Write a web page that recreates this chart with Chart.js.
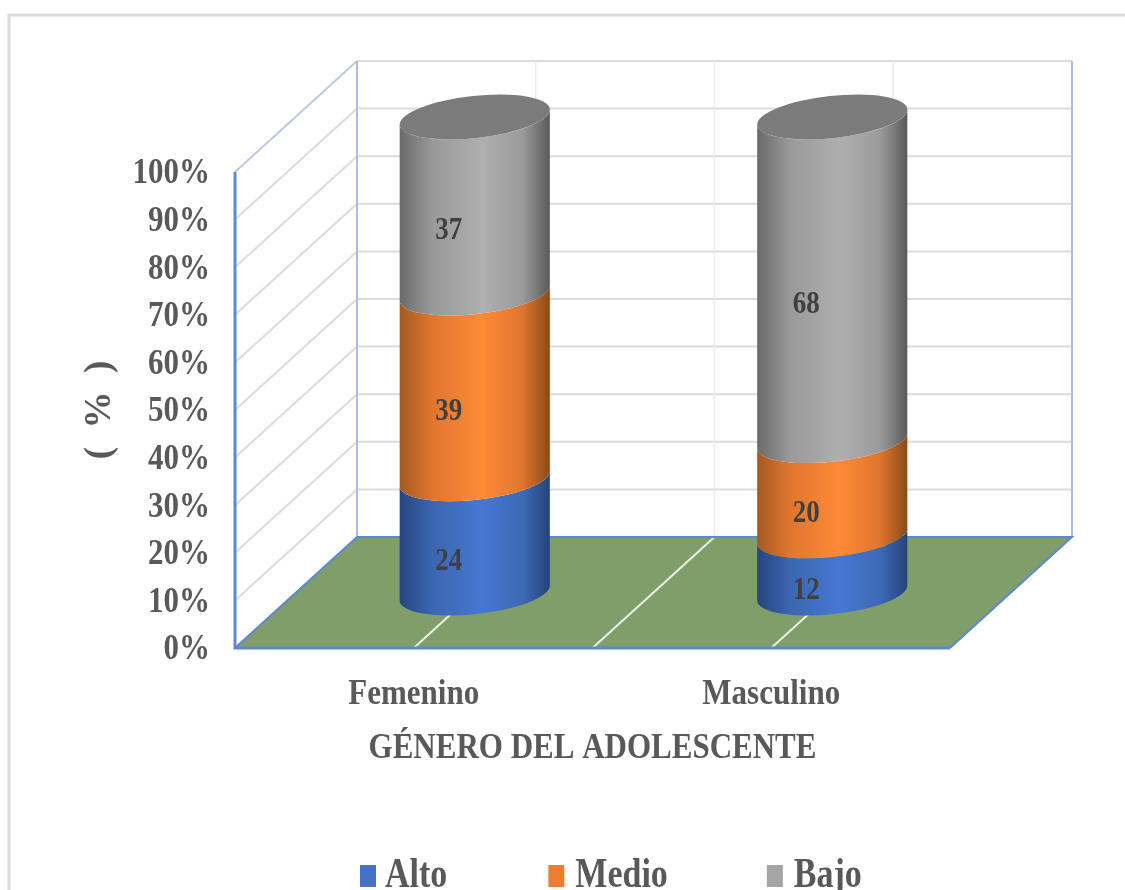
<!DOCTYPE html>
<html>
<head>
<meta charset="utf-8">
<style>
html,body{margin:0;padding:0;background:#fff;overflow:hidden}
canvas{display:block;filter:blur(0.45px)}
</style>
<script src="https://cdn.jsdelivr.net/npm/chart.js@4/dist/chart.umd.min.js"></script>
</head>
<body>
<canvas id="c" width="1125" height="890"></canvas>
<script>
const categories = ['Femenino', 'Masculino'];
const alto = [24, 12];
const medio = [39, 20];
const bajo = [37, 68];
const seriesNames = ['Alto', 'Medio', 'Bajo'];
const yTicks = [0, 10, 20, 30, 40, 50, 60, 70, 80, 90, 100];
const xTitle = 'GÉNERO DEL ADOLESCENTE';
const yTitle = '(  %  )';

const FONT = '"Liberation Serif", serif';
const TEXT = '#595959';
const DEPTH_X = 122, DEPTH_Y = 111;
const BAR_DX = 61, BAR_DY = 55;
const LEGEND_TEXT_DX = [-8, -6, -6];
const SHADES = [
  ['#27457f', '#3b66b0', '#4678d2', '#3d69b6', '#25437a'],
  ['#a45a22', '#e0762f', '#ff8a36', '#de752e', '#8a4a17'],
  ['#6a6a6a', '#999999', '#afafaf', '#9a9a9a', '#5a5a5a']
];

const scene = {
  id: 'scene',
  start(chart) {
    const ctx = chart.ctx, orig = ctx.fillText.bind(ctx);
    ctx.fillText = function (t, x, y, m) {
      const rotated = Math.abs(ctx.getTransform().b) > 0.01;
      const size = parseFloat(ctx.font.match(/(\d+(?:\.\d+)?)px/)[1]);
      const stretch = size === 34 ? 1.25 : 1.17;
      const li = size === 34 ? seriesNames.indexOf(t) : -1;
      const dx = li >= 0 ? LEGEND_TEXT_DX[li] : 0;
      const dy = size === 31 ? 2 : 0;
      ctx.save();
      ctx.translate(x + dx, y + dy);
      if (!rotated) ctx.scale(1, stretch);
      if (m === undefined) orig(t, 0, 0); else orig(t, 0, 0, m);
      ctx.restore();
    };
  },
  beforeLayout(chart) {
    const l = chart.legend;
    if (l && !l._fixedFit) {
      const f = l.fit;
      l.fit = function () { f.call(this); this.height = 0; };
      l._fixedFit = true;
    }
  },
  afterLayout(chart) {
    const l = chart.legend, pad = l.options.labels.padding;
    l.left = 360 - pad;
    l.right = 1300;
    l.top = 859 - pad;
    l.bottom = 890;
  },
  beforeDraw(chart) {
    const { ctx, scales: { x, y } } = chart;
    const b0 = y.getPixelForValue(0), t0 = y.getPixelForValue(100);
    const L = x.left, R = x.right;
    ctx.save();
    ctx.fillStyle = '#fff';
    ctx.fillRect(0, 0, chart.width, chart.height);
    // outer frame
    ctx.strokeStyle = '#dcdcdc'; ctx.lineWidth = 3;
    ctx.beginPath(); ctx.moveTo(9, 890); ctx.lineTo(9, 15); ctx.lineTo(1125, 15); ctx.stroke();
    // floor
    ctx.fillStyle = '#809e6a';
    ctx.beginPath();
    ctx.moveTo(L, b0); ctx.lineTo(R, b0); ctx.lineTo(R + DEPTH_X, b0 - DEPTH_Y); ctx.lineTo(L + DEPTH_X, b0 - DEPTH_Y);
    ctx.closePath(); ctx.fill();
    // gridlines on walls
    ctx.strokeStyle = '#dcdcdc'; ctx.lineWidth = 2;
    yTicks.forEach(v => {
      const p = y.getPixelForValue(v);
      ctx.beginPath();
      if (v > 0) { ctx.moveTo(L, p); ctx.lineTo(L + DEPTH_X, p - DEPTH_Y); }
      ctx.moveTo(L + DEPTH_X, p - DEPTH_Y); ctx.lineTo(R + DEPTH_X, p - DEPTH_Y);
      ctx.stroke();
    });
    // verticals on back wall + floor lines
    [0, 0.5, 1].forEach(v => {
      const p = x.getPixelForValue(v);
      ctx.strokeStyle = '#ececec'; ctx.lineWidth = 1.5;
      ctx.beginPath(); ctx.moveTo(p + DEPTH_X, b0 - DEPTH_Y); ctx.lineTo(p + DEPTH_X, t0 - DEPTH_Y); ctx.stroke();
      ctx.strokeStyle = '#eef0ea'; ctx.lineWidth = 2;
      ctx.beginPath(); ctx.moveTo(p, b0); ctx.lineTo(p + DEPTH_X, b0 - DEPTH_Y); ctx.stroke();
    });
    // wall edges
    ctx.strokeStyle = '#b4c6e7'; ctx.lineWidth = 1.5;
    ctx.beginPath(); ctx.moveTo(L, t0); ctx.lineTo(L + DEPTH_X, t0 - DEPTH_Y); ctx.stroke();
    ctx.strokeStyle = '#a9bde6'; ctx.lineWidth = 2;
    ctx.beginPath(); ctx.moveTo(L + DEPTH_X, t0 - DEPTH_Y); ctx.lineTo(L + DEPTH_X, b0 - DEPTH_Y); ctx.stroke();
    ctx.beginPath(); ctx.moveTo(R + DEPTH_X, t0 - DEPTH_Y); ctx.lineTo(R + DEPTH_X, b0 - DEPTH_Y); ctx.stroke();
    ctx.strokeStyle = '#5f88d4'; ctx.lineWidth = 3;
    ctx.beginPath(); ctx.moveTo(L, t0); ctx.lineTo(L, b0); ctx.lineTo(R, b0); ctx.stroke();
    ctx.lineWidth = 2;
    ctx.beginPath(); ctx.moveTo(L, b0); ctx.lineTo(L + DEPTH_X, b0 - DEPTH_Y); ctx.lineTo(R + DEPTH_X, b0 - DEPTH_Y); ctx.lineTo(R, b0); ctx.stroke();
    ctx.restore();
  },
  beforeDatasetDraw() { return false; },
  afterDatasetsDraw(chart) {
    const { ctx } = chart;
    const n = chart.data.datasets.length;
    ctx.save();
    for (let d = 0; d < n; d++) {
      chart.getDatasetMeta(d).data.forEach(bar => {
        const w = bar.width, cx = bar.x + BAR_DX;
        const a = w * 0.5027, b = w * 0.14, r = -0.108;
        const t = Math.atan2(-b * Math.sin(r), a * Math.cos(r));
        const yTop = bar.y - BAR_DY, yBase = bar.base - BAR_DY;
        const g = ctx.createLinearGradient(cx - w / 2, 0, cx + w / 2, 0);
        const s = SHADES[d];
        g.addColorStop(0, s[0]); g.addColorStop(0.22, s[1]); g.addColorStop(0.55, s[2]);
        g.addColorStop(0.82, s[3]); g.addColorStop(1, s[4]);
        ctx.fillStyle = g;
        ctx.beginPath();
        ctx.ellipse(cx, yBase, a, b, r, t, t + Math.PI, false);
        ctx.ellipse(cx, yTop, a, b, r, t + Math.PI, t, true);
        ctx.closePath();
        ctx.fill();
        if (d === n - 1) {
          ctx.fillStyle = '#7b7b7b';
          ctx.beginPath();
          ctx.ellipse(cx, yTop, a, b, r, 0, Math.PI * 2);
          ctx.fill();
        }
      });
    }
    ctx.fillStyle = '#404040';
    ctx.font = 'bold 27px ' + FONT;
    ctx.textAlign = 'center';
    ctx.textBaseline = 'middle';
    for (let d = 0; d < n; d++) {
      const vals = chart.data.datasets[d].data;
      chart.getDatasetMeta(d).data.forEach((bar, i) => {
        ctx.fillText(String(vals[i]), bar.x + 35, (bar.y + bar.base) / 2 - 29);
      });
    }
    ctx.restore();
  }
};

new Chart(document.getElementById('c'), {
  type: 'bar',
  data: {
    labels: categories,
    datasets: [
      { label: seriesNames[0], data: alto, backgroundColor: '#4472C4' },
      { label: seriesNames[1], data: medio, backgroundColor: '#ED7D31' },
      { label: seriesNames[2], data: bajo, backgroundColor: '#A5A5A5' }
    ]
  },
  plugins: [scene],
  options: {
    responsive: false,
    animation: false,
    devicePixelRatio: 1,
    layout: { padding: { top: 172, right: 175, left: 0, bottom: 0 } },
    datasets: { bar: { barPercentage: 0.42, categoryPercentage: 1 } },
    plugins: {
      tooltip: { enabled: false },
      legend: {
        position: 'bottom',
        align: 'start',
        labels: {
          boxWidth: 16, boxHeight: 22, padding: 93,
          color: TEXT,
          font: { family: FONT, weight: 'bold', size: 34 }
        }
      }
    },
    scales: {
      x: {
        stacked: true,
        afterFit(s) { s.height = 242; },
        grid: { display: false },
        border: { display: false },
        ticks: {
          color: TEXT, padding: 18, maxRotation: 0, autoSkip: false,
          font: { family: FONT, weight: 'bold', size: 31 }
        },
        title: {
          display: true, text: xTitle, color: TEXT,
          font: { family: FONT, weight: 'bold', size: 31 },
          padding: { top: 0, bottom: 125 }
        }
      },
      y: {
        stacked: true,
        min: 0, max: 100,
        afterFit(s) { s.width = 235; },
        afterBuildTicks(s) { s.ticks = yTicks.map(v => ({ value: v })); },
        grid: { display: false },
        border: { display: false },
        ticks: {
          color: TEXT, padding: 17, autoSkip: false,
          font: { family: FONT, weight: 'bold', size: 31 },
          callback: v => v + '%'
        },
        title: {
          display: true, text: yTitle, color: TEXT,
          font: { family: FONT, weight: 'bold', size: 37 },
          padding: { top: 78, bottom: 0 }
        }
      }
    }
  }
});
</script>
</body>
</html>
